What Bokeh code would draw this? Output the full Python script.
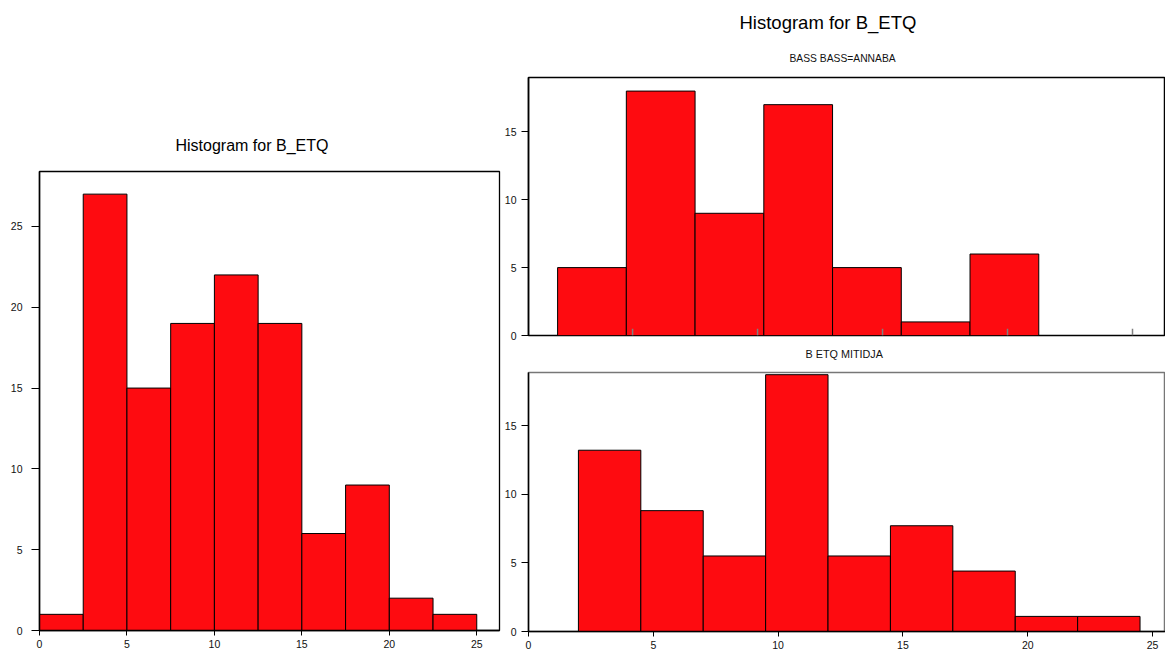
from bokeh.plotting import figure
from bokeh.layouts import row, column
from bokeh.models import Title, FixedTicker, Range1d
from bokeh.embed import file_html
from bokeh.resources import INLINE

FONT = "Liberation Sans"
BAR = "#fe0b10"

# ---- data ----
all_edges = [0, 2.5, 5, 7.5, 10, 12.5, 15, 17.5, 20, 22.5, 25]
all_counts = [1, 27, 15, 19, 22, 19, 6, 9, 2, 1]
annaba_edges = [2, 4.75, 7.5, 10.25, 13, 15.75, 18.5, 21.25]
annaba_counts = [5, 18, 9, 17, 5, 1, 6]
mitidja_edges = [2, 4.5, 7, 9.5, 12, 14.5, 17, 19.5, 22, 24.5]
mitidja_values = [13.2, 8.8, 5.5, 18.7, 5.5, 7.7, 4.4, 1.1, 1.1]
x_ticks = [0, 5, 10, 15, 20, 25]
x_ticks_top = [5, 10, 15, 20, 25]
y_ticks_all = [0, 5, 10, 15, 20, 25]
y_ticks_group = [0, 5, 10, 15]
main_title = "Histogram for B_ETQ"
group_titles = ["BASS BASS=ANNABA", "B ETQ MITIDJA"]


def style_axis(ax, ticks, tick_out, standoff, size="10.5px", line_color="black"):
    ax.ticker = FixedTicker(ticks=ticks)
    ax.minor_tick_line_color = None
    ax.axis_line_color = line_color
    ax.axis_line_width = 1.5
    ax.major_tick_line_color = "black"
    ax.major_tick_line_width = 1
    ax.major_tick_in = 0
    ax.major_tick_out = tick_out
    ax.major_label_standoff = standoff
    ax.major_label_text_font = FONT
    ax.major_label_text_font_size = size
    ax.major_label_text_color = "#111111"


def base_fig(**kw):
    p = figure(output_backend="svg", toolbar_location=None, title=None, **kw)
    p.xgrid.visible = False
    p.ygrid.visible = False
    p.background_fill_color = "white"
    p.border_fill_color = "white"
    p.outline_line_alpha = 1
    return p


def bars(p, edges, vals):
    p.quad(left=edges[:-1], right=edges[1:], bottom=0, top=vals,
           fill_color=BAR, line_color="black", line_width=1)


def add_title(p, text, size, standoff, offset, side="above", color="black"):
    p.add_layout(Title(text=text, align="left", offset=offset, text_font=FONT,
                       text_font_size=size, text_font_style="normal",
                       text_color=color, standoff=standoff), side)


# ---- left: overall histogram ----
pL = base_fig(width=501, height=653, x_range=Range1d(0, 26.3), y_range=Range1d(0, 28.4),
              min_border_left=39, min_border_right=2, min_border_top=171, min_border_bottom=23)
pL.outline_line_color = "black"
pL.outline_line_width = 1.3
bars(pL, all_edges, all_counts)
style_axis(pL.xaxis[0], x_ticks, 5, 4)
style_axis(pL.yaxis[0], y_ticks_all, 8, 9)
add_title(pL, main_title, "16px", 36, 136)

# ---- right top: ANNABA ----
pT = base_fig(width=664, height=369, x_range=Range1d(0.836, 26.32), y_range=Range1d(0, 19),
              x_axis_location=None,
              min_border_left=25, min_border_right=0, min_border_top=77, min_border_bottom=32)
pT.outline_line_color = "black"
pT.outline_line_width = 1.5
bars(pT, annaba_edges, annaba_counts)
style_axis(pT.yaxis[0], y_ticks_group, 7, 5)
# inward tick marks of the top panel (no labels)
pT.segment(x0=x_ticks_top, y0=0, x1=x_ticks_top, y1=0.5, line_color="#808080", line_width=1.5)
add_title(pT, group_titles[0], "10.3px", 28, 261, color="#111111")
add_title(pT, main_title, "18.5px", 8, 211)
# panel label of the lower histogram sits between the two panels
add_title(pT, group_titles[1], "10.8px", 20, 277, side="below", color="#111111")

# ---- right bottom: MITIDJA ----
pB = base_fig(width=664, height=284, x_range=Range1d(0, 25.52), y_range=Range1d(0, 18.86),
              min_border_left=25, min_border_right=0, min_border_top=3, min_border_bottom=22)
pB.outline_line_color = "#777777"
pB.outline_line_width = 1.5
bars(pB, mitidja_edges, mitidja_values)
style_axis(pB.xaxis[0], x_ticks, 5, 4)
style_axis(pB.yaxis[0], y_ticks_group, 7, 5)

layout = row(pL, column(pT, pB, spacing=0), spacing=0)
open("out.html", "w").write(file_html(layout, INLINE))
